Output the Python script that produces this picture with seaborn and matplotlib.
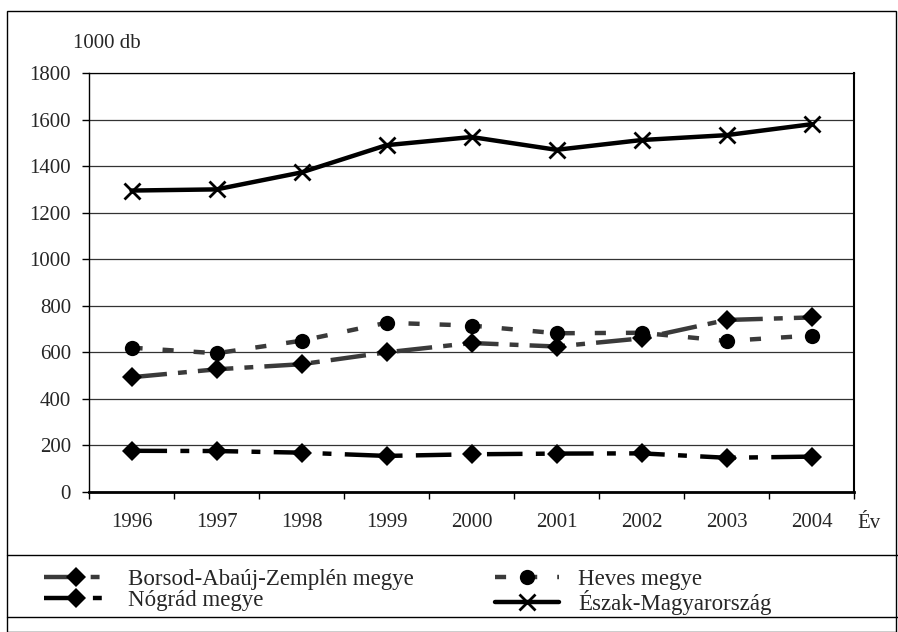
import numpy as np
import pandas as pd
import matplotlib
matplotlib.use("Agg")
import matplotlib.pyplot as plt
import matplotlib.ticker as mticker
from matplotlib.lines import Line2D
import seaborn as sns

years = [1996, 1997, 1998, 1999, 2000, 2001, 2002, 2003, 2004]
borsod = [493, 527, 549, 600, 640, 625, 660, 739, 750]
heves = [620, 596, 650, 727, 715, 682, 684, 649, 672]
nograd = [177, 176, 169, 155, 162, 165, 166, 147, 152]
eszak = [1295, 1300, 1373, 1490, 1525, 1470, 1512, 1533, 1580]
y_ticks = list(range(0, 1801, 200))

series = [
    ("Borsod-Abaúj-Zemplén megye", borsod),
    ("Heves megye", heves),
    ("Nógrád megye", nograd),
    ("Észak-Magyarország", eszak),
]
df = pd.DataFrame(
    [(name, yr, v) for name, vals in series for yr, v in zip(years, vals)],
    columns=["Megye", "Év", "Érték"],
)

styles = {
    "Borsod-Abaúj-Zemplén megye": dict(color="#3a3a3a", marker="D", dashes=(8, 2.5, 2, 2.5), ms=10.5),
    "Heves megye": dict(color="#3a3a3a", marker="o", dashes=(2.5, 4.5), ms=11),
    "Nógrád megye": dict(color="black", marker="D", dashes=(8, 3, 2, 3), ms=10.5),
    "Észak-Magyarország": dict(color="black", marker="x", dashes=None, ms=11),
}

sns.set_style("white")
plt.rcParams["font.family"] = ["Liberation Serif", "DejaVu Serif"]

fig = plt.figure(figsize=(8.98, 6.32), dpi=100)
ax = fig.add_axes([89 / 898, 140 / 632, 765 / 898, 419 / 632])

handles = {}
for name, _ in series:
    st = styles[name]
    sub = df[df["Megye"] == name]
    sns.lineplot(
        data=sub, x="Év", y="Érték", ax=ax, color=st["color"], linewidth=3.2,
        marker=st["marker"], markersize=st["ms"], markerfacecolor="black",
        markeredgecolor="black", markeredgewidth=2 if st["marker"] == "x" else 0,
        legend=False,
    )
    line = ax.lines[-1]
    if st["dashes"] is not None:
        line.set_dashes(st["dashes"])
    handles[name] = line

ax.set_xlim(years[0] - 0.5, years[-1] + 0.5)
ax.set_ylim(0, 1800)
ax.set_yticks(y_ticks)
ax.yaxis.grid(True, color="#333333", linewidth=0.9)
ax.set_axisbelow(True)
ax.xaxis.set_major_locator(mticker.FixedLocator([y - 0.5 for y in years] + [years[-1] + 0.5]))
ax.xaxis.set_major_formatter(mticker.NullFormatter())
ax.xaxis.set_minor_locator(mticker.FixedLocator(years))
ax.xaxis.set_minor_formatter(mticker.FixedFormatter([str(y) for y in years]))
ax.tick_params(axis="x", which="major", direction="out", length=5, width=1, color="black", bottom=True)
ax.tick_params(axis="x", which="minor", length=0, pad=15, labelsize=15)
ax.tick_params(axis="y", direction="out", length=5, width=1, color="black", left=True, pad=8, labelsize=15)
ax.set_xlabel("")
ax.set_ylabel("")
for side in ["left", "right", "top"]:
    ax.spines[side].set_color("black")
    ax.spines[side].set_linewidth(1)
ax.spines["top"].set_linewidth(0.9)
ax.spines["bottom"].set_color("black")
ax.spines["bottom"].set_linewidth(2)
ax.spines["right"].set_linewidth(1.5)

fig.text(73 / 898, 1 - 43 / 632, "1000 db", fontsize=15, va="center", ha="left")
fig.text(857 / 898, 1 - 524 / 632, "Év", fontsize=15, va="center", ha="left")

# outer frame and legend separators
fig.add_artist(plt.Rectangle((7 / 898, 0), 889 / 898, 1 - 11 / 632, transform=fig.transFigure,
                             fill=False, edgecolor="black", linewidth=1))
for yy in [555, 617]:
    fig.add_artist(Line2D([7 / 898, 1], [1 - yy / 632] * 2, transform=fig.transFigure,
                          color="black", linewidth=1))

order = ["Borsod-Abaúj-Zemplén megye", "Nógrád megye", "Heves megye", "Észak-Magyarország"]
fig.legend(
    [handles[n] for n in order], order, ncol=2, loc="upper left",
    bbox_to_anchor=(28 / 898, 1 - 553 / 632), frameon=False, fontsize=16.5,
    handlelength=2.8, handletextpad=0.85, columnspacing=3.55, labelspacing=0.0,
    borderpad=0.2, numpoints=1,
)

fig.savefig("out.png", dpi=100)
